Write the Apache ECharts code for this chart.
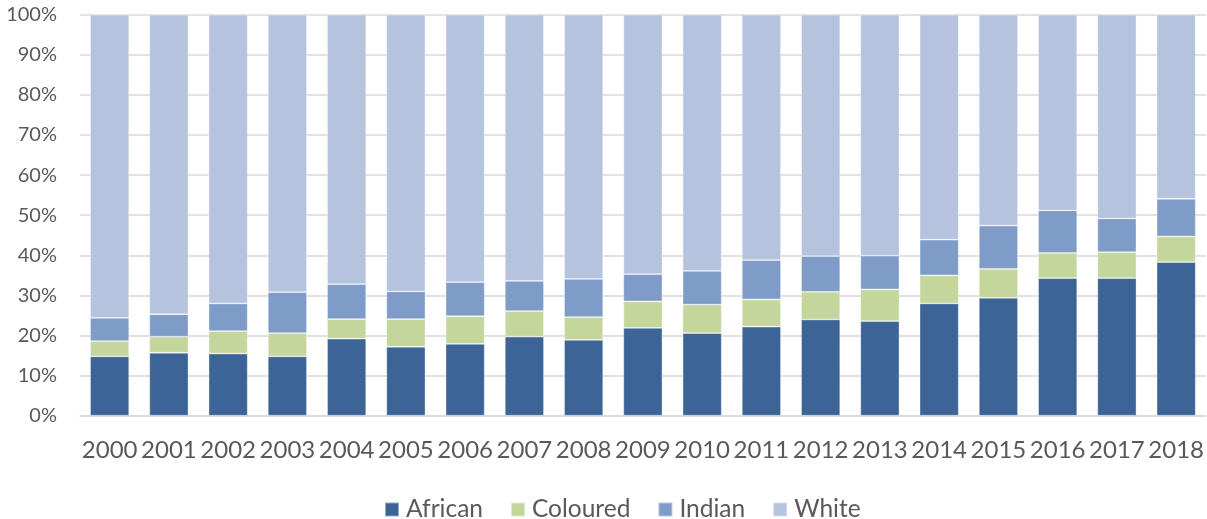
<!DOCTYPE html>
<html><head><meta charset="utf-8">
<script src="https://cdn.jsdelivr.net/npm/echarts@6/dist/echarts.min.js"></script>
<style>html,body{margin:0;padding:0;background:#fff}#c{width:1207px;height:519px}</style>
</head><body><div id="c"></div>
<script>
const years = ['2000','2001','2002','2003','2004','2005','2006','2007','2008','2009','2010','2011','2012','2013','2014','2015','2016','2017','2018'];
const african  = [14.8,15.7,15.5,14.8,19.2,17.2,17.9,19.7,18.9,21.9,20.6,22.2,24.0,23.6,28.0,29.4,34.3,34.3,38.3];
const coloured = [3.8,4.0,5.6,5.8,4.9,6.9,6.9,6.4,5.7,6.6,7.1,6.8,6.9,7.9,7.0,7.2,6.3,6.5,6.4];
const indian   = [5.8,5.6,6.9,10.2,8.7,6.9,8.5,7.5,9.5,6.8,8.4,9.8,8.9,8.4,8.9,10.8,10.6,8.4,9.4];
const white    = [75.6,74.7,72.0,69.2,67.2,69.0,66.7,66.4,65.9,64.7,63.9,61.2,60.2,60.1,56.1,52.6,48.8,50.8,45.9];
const seriesNames = ['African','Coloured','Indian','White'];
const colors = ['#3C6496','#C4D69C','#7F9CC8','#B5C3DE'];
const FONT = 'Lato';
const chart = echarts.init(document.getElementById('c'), null, {renderer:'canvas'});
const mk = (name, data, color) => ({
  name, type:'bar', stack:'total', data, barCategoryGap:'34%',
  itemStyle:{color, borderColor:'rgba(255,255,255,0.45)', borderWidth:0.8},
  emphasis:{disabled:true}
});
chart.setOption({
  animation:false,
  textStyle:{fontFamily:FONT},
  grid:{left:80, right:1, top:14.7, bottom:103.3, containLabel:false},
  legend:{
    data:seriesNames, top:492, left:379,
    itemWidth:14, itemHeight:14, itemGap:27, icon:'rect',
    textStyle:{fontFamily:FONT, fontSize:24.5, color:'#595959', padding:[0,0,0,2]}
  },
  xAxis:{
    type:'category', data:years,
    axisLine:{show:true, lineStyle:{color:'#d9d9d9', width:1.5}},
    axisTick:{show:false},
    axisLabel:{fontFamily:FONT, fontSize:24, color:'#595959', margin:23, interval:0}
  },
  yAxis:{
    type:'value', min:0, max:100, interval:10,
    axisLine:{show:false}, axisTick:{show:false},
    splitLine:{lineStyle:{color:'#d9d9d9', width:1.5}},
    axisLabel:{fontFamily:FONT, fontSize:20, color:'#595959', margin:23, formatter:'{value}%'}
  },
  series:[
    mk(seriesNames[0], african, colors[0]),
    mk(seriesNames[1], coloured, colors[1]),
    mk(seriesNames[2], indian, colors[2]),
    mk(seriesNames[3], white, colors[3])
  ]
});
</script></body></html>
